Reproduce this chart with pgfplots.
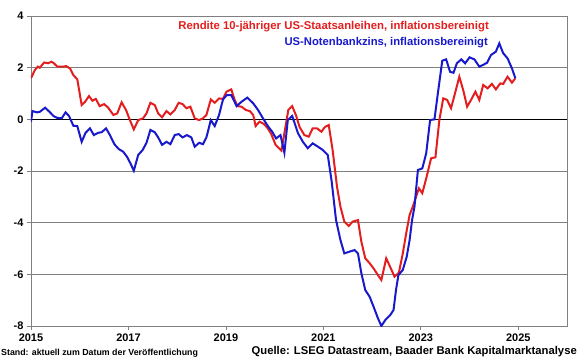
\documentclass[border=0pt]{standalone}
\usepackage{pgfplots}
\pgfplotsset{compat=1.18}
\usepackage{fontspec}
\setmainfont{Liberation Sans}
\definecolor{cred}{RGB}{228,30,30}
\definecolor{cblue}{RGB}{24,24,205}
\definecolor{cgrid}{RGB}{128,128,128}
\begin{document}
\begin{tikzpicture}[x=1bp,y=1bp]
\useasboundingbox (-31,-33) rectangle (549,326);
\begin{axis}[
  at={(0,0)}, anchor=south west,
  scale only axis, width=536bp, height=310bp,
  xmin=2015, xmax=2026, ymin=-8, ymax=4,
  xtick={2015,2017,...,2025}, ytick={-8,-6,...,4},
  xtick pos=lower, ytick pos=left,
  tick align=outside, major tick length=4bp,
  ymajorgrids, grid style={cgrid, line width=0.8bp},
  axis line style={cgrid, line width=0.8bp},
  tick style={cgrid, line width=0.8bp},
  tick label style={font=\fontsize{11}{12}\selectfont\bfseries},
  /pgf/number format/assume math mode=true,
  /pgf/number format/1000 sep={},
  clip=true,
]
\addplot[black, line width=1.6bp, forget plot] coordinates {(2015,0) (2026,0)};
\addplot[cred, line width=2bp] coordinates {
(2015.00,1.59) (2015.08,1.91) (2015.14,2.04) (2015.18,2.00) (2015.27,2.20) (2015.35,2.17)
(2015.42,2.23) (2015.47,2.17) (2015.54,2.04) (2015.66,2.04) (2015.72,2.06) (2015.80,1.97)
(2015.87,1.71) (2015.95,1.55) (2016.04,0.55) (2016.11,0.68) (2016.19,0.90) (2016.26,0.72)
(2016.33,0.79) (2016.41,0.51) (2016.50,0.59) (2016.58,0.46) (2016.69,0.17) (2016.77,0.23)
(2016.86,0.66) (2016.95,0.36) (2017.03,-0.03) (2017.11,-0.39) (2017.20,-0.03) (2017.30,0.04)
(2017.37,0.23) (2017.45,0.64) (2017.54,0.55) (2017.61,0.23) (2017.69,0.08) (2017.78,0.32)
(2017.86,0.19) (2017.95,0.36) (2018.03,0.64) (2018.11,0.59) (2018.19,0.43) (2018.27,0.49)
(2018.36,0.04) (2018.45,-0.03) (2018.53,0.04) (2018.60,0.17) (2018.69,0.77) (2018.77,0.64)
(2018.86,0.81) (2018.94,0.79) (2019.01,1.07) (2019.11,1.16) (2019.18,0.75) (2019.24,0.51)
(2019.32,0.49) (2019.41,0.36) (2019.49,0.32) (2019.56,0.17) (2019.61,-0.26) (2019.69,-0.09)
(2019.78,-0.18) (2019.86,-0.35) (2019.93,-0.57) (2020.02,-0.99) (2020.14,-1.21) (2020.28,0.36)
(2020.36,0.51) (2020.44,0.15) (2020.51,-0.29) (2020.61,-0.61) (2020.70,-0.67) (2020.78,-0.35)
(2020.87,-0.35) (2020.96,-0.48) (2021.03,-0.30) (2021.11,-0.22) (2021.19,-1.19) (2021.28,-2.61)
(2021.35,-3.38) (2021.43,-3.96) (2021.52,-4.13) (2021.60,-3.96) (2021.71,-3.90) (2021.78,-4.74)
(2021.86,-5.38) (2021.95,-5.57) (2022.03,-5.77) (2022.12,-6.03) (2022.19,-6.22) (2022.29,-5.38)
(2022.37,-5.71) (2022.46,-6.09) (2022.55,-5.94) (2022.63,-5.19) (2022.70,-4.41) (2022.77,-3.70)
(2022.85,-3.30) (2022.96,-2.67) (2023.03,-2.86) (2023.12,-2.22) (2023.21,-1.51) (2023.30,-1.47)
(2023.38,-0.03) (2023.46,0.81) (2023.54,0.75) (2023.62,0.43) (2023.71,1.07) (2023.79,1.65)
(2023.87,1.13) (2023.95,0.49) (2024.03,0.75) (2024.12,1.07) (2024.20,0.75) (2024.28,1.33)
(2024.37,1.20) (2024.46,1.37) (2024.54,1.16) (2024.63,1.39) (2024.69,1.37) (2024.78,1.65)
(2024.87,1.42) (2024.94,1.59)
};
\addplot[cblue, line width=2bp] coordinates {
(2015.00,-0.09) (2015.03,0.32) (2015.12,0.27) (2015.18,0.29) (2015.29,0.45) (2015.38,0.29)
(2015.46,0.13) (2015.53,0.06) (2015.63,0.04) (2015.71,0.27) (2015.78,0.13) (2015.87,-0.25)
(2015.95,-0.26) (2016.04,-0.87) (2016.12,-0.52) (2016.21,-0.35) (2016.29,-0.61) (2016.38,-0.52)
(2016.45,-0.50) (2016.54,-0.35) (2016.62,-0.61) (2016.71,-0.96) (2016.80,-1.15) (2016.89,-1.25)
(2016.97,-1.45) (2017.04,-1.70) (2017.11,-1.99) (2017.20,-1.38) (2017.29,-1.19) (2017.37,-0.91)
(2017.45,-0.41) (2017.54,-0.50) (2017.61,-0.70) (2017.69,-0.99) (2017.78,-0.87) (2017.86,-0.96)
(2017.95,-0.61) (2018.03,-0.57) (2018.11,-0.70) (2018.20,-0.61) (2018.29,-0.70) (2018.36,-1.06)
(2018.45,-0.91) (2018.53,-0.96) (2018.60,-0.70) (2018.69,-0.03) (2018.77,-0.26) (2018.86,0.17)
(2018.94,0.77) (2019.02,0.94) (2019.11,0.94) (2019.22,0.51) (2019.32,0.68) (2019.44,0.84)
(2019.56,0.62) (2019.66,0.36) (2019.76,0.04) (2019.86,-0.26) (2019.95,-0.48) (2020.03,-0.74)
(2020.12,-0.61) (2020.20,-1.29) (2020.27,-0.03) (2020.36,0.13) (2020.48,-0.54) (2020.58,-0.87)
(2020.68,-1.12) (2020.78,-0.93) (2020.89,-1.06) (2020.99,-1.19) (2021.09,-1.38) (2021.17,-2.40)
(2021.26,-3.90) (2021.35,-4.67) (2021.43,-5.19) (2021.54,-5.12) (2021.64,-5.06) (2021.71,-5.19)
(2021.78,-5.96) (2021.86,-6.61) (2021.95,-6.87) (2022.03,-7.25) (2022.12,-7.70) (2022.19,-8.00)
(2022.27,-7.77) (2022.37,-7.58) (2022.44,-7.38) (2022.49,-6.61) (2022.54,-6.03) (2022.63,-5.83)
(2022.71,-5.32) (2022.77,-4.67) (2022.82,-3.90) (2022.87,-3.38) (2022.94,-1.96) (2023.03,-1.90)
(2023.11,-1.32) (2023.19,-0.03) (2023.28,0.00) (2023.35,1.01) (2023.44,2.27) (2023.52,2.32)
(2023.60,1.84) (2023.67,1.80) (2023.74,2.17) (2023.83,2.32) (2023.91,2.17) (2024.00,2.40)
(2024.10,2.32) (2024.20,2.04) (2024.27,2.10) (2024.36,2.19) (2024.44,2.49) (2024.54,2.62)
(2024.61,2.94) (2024.69,2.56) (2024.78,2.36) (2024.87,1.97) (2024.94,1.59)
};
\end{axis}
\node[anchor=base east, inner sep=0pt, text=cred, font=\fontsize{11.4}{13}\selectfont\bfseries] at (458,297) {Rendite 10-jähriger US-Staatsanleihen, inflationsbereinigt};
\node[anchor=base east, inner sep=0pt, text=cblue, font=\fontsize{11.3}{13}\selectfont\bfseries] at (457,281) {US-Notenbankzins, inflationsbereinigt};
\node[anchor=base west, inner sep=0pt, font=\fontsize{8.85}{10}\selectfont\bfseries] at (-30,-29) {Stand: aktuell zum Datum der Veröffentlichung};
\node[anchor=base east, inner sep=0pt, font=\fontsize{11.3}{13}\selectfont\bfseries] at (546,-28) {Quelle: LSEG Datastream, Baader Bank Kapitalmarktanalyse};
\end{tikzpicture}
\end{document}
